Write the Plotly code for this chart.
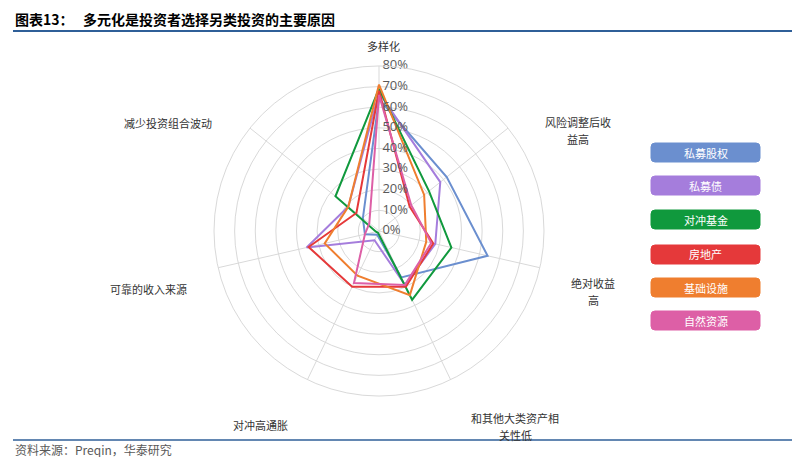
import plotly.graph_objects as go

categories = ["多样化", "风险调整后收益高", "绝对收益高", "和其他大类资产相关性低",
              "对冲高通胀", "可靠的收入来源", "减少投资组合波动"]
# how each category label is wrapped in the picture
category_lines = [["多样化"], ["风险调整后收", "益高"], ["绝对收益", "高"], ["和其他大类资产相", "关性低"],
                  ["对冲高通胀"], ["可靠的收入来源"], ["减少投资组合波动"]]

series_names = ["私募股权", "私募债", "对冲基金", "房地产", "基础设施", "自然资源"]
pe_vals = [64, 42, 54, 25, 2, 7, 10]
pd_vals = [67, 38, 28, 29, 5, 36, 19]
hf_vals = [69, 31, 36, 37, 1, 1.5, 27]
re_vals = [68, 19, 27, 30, 30, 35, 14]
inf_vals = [71, 28, 23.5, 34.5, 24, 27, 19]
nr_vals = [66, 20, 26, 29, 28, 7, 6]
series_values = [pe_vals, pd_vals, hf_vals, re_vals, inf_vals, nr_vals]
colors = ["#6b8fcf", "#a57ddc", "#10993d", "#e5393a", "#ef7e2f", "#dd5fa6"]

radial_ticks = [0, 10, 20, 30, 40, 50, 60, 70, 80]
radial_ticktext = [f"{v}%" for v in radial_ticks]

W, H = 800, 457
FONT = "Noto Sans CJK SC"


def px(x):
    return x / W


def py(y):
    return 1 - y / H


fig = go.Figure()
for name, vals, col in zip(series_names, series_values, colors):
    fig.add_trace(go.Scatterpolar(
        r=vals + vals[:1],
        theta=categories + categories[:1],
        mode="lines",
        name=name,
        line=dict(color=col, width=2),
        showlegend=False,
        hoverinfo="skip",
    ))

# radial tick labels, drawn along the top spoke
fig.add_trace(go.Scatterpolar(
    r=radial_ticks,
    theta=[categories[0]] * len(radial_ticks),
    mode="text",
    text=[" " + t for t in radial_ticktext],
    textposition="middle right",
    textfont=dict(size=13, color="#595959", family="Open Sans"),
    showlegend=False,
    hoverinfo="skip",
    cliponaxis=False,
))

fig.update_layout(
    width=W, height=H,
    margin=dict(l=0, r=0, t=0, b=0),
    paper_bgcolor="white",
    plot_bgcolor="white",
    font=dict(family=FONT, color="#404040"),
    polar=dict(
        domain=dict(x=[px(206), px(536)], y=[py(388), py(58)]),
        bgcolor="white",
        gridshape="circular",
        angularaxis=dict(
            rotation=90, direction="clockwise",
            showticklabels=False, ticks="",
            gridcolor="#d9d9d9", gridwidth=1,
            linecolor="#d9d9d9", linewidth=1, showline=True,
        ),
        radialaxis=dict(
            range=[0, 80], tickvals=radial_ticks,
            angle=90, showticklabels=False,
            showline=False, ticks="",
            gridcolor="#d9d9d9", gridwidth=1,
        ),
    ),
)

annotations = []
# category labels (one annotation per line)
label_pos = [(375, 38), (570, 122), (585, 283), (507, 418), (252, 417), (140, 281), (160, 115)]
for lines, (x, y) in zip(category_lines, label_pos):
    n = len(lines)
    for i, line in enumerate(lines):
        yy = y + (i - (n - 1) / 2) * 17
        annotations.append(dict(x=px(x), y=py(yy), xref="paper", yref="paper", text=line,
                                showarrow=False, xanchor="center", yanchor="middle",
                                font=dict(size=11, color="#333333", family=FONT)))

# legend boxes
shapes = []
box_tops = [135, 168, 202, 237, 270, 303]
x0b, x1b, hb, rad = 643, 752, 19, 4
for name, col, top in zip(series_names, colors, box_tops):
    y0, y1 = top, top + hb
    path = (f"M {px(x0b + rad)},{py(y0)} L {px(x1b - rad)},{py(y0)} "
            f"Q {px(x1b)},{py(y0)} {px(x1b)},{py(y0 + rad)} L {px(x1b)},{py(y1 - rad)} "
            f"Q {px(x1b)},{py(y1)} {px(x1b - rad)},{py(y1)} L {px(x0b + rad)},{py(y1)} "
            f"Q {px(x0b)},{py(y1)} {px(x0b)},{py(y1 - rad)} L {px(x0b)},{py(y0 + rad)} "
            f"Q {px(x0b)},{py(y0)} {px(x0b + rad)},{py(y0)} Z")
    shapes.append(dict(type="path", path=path, xref="paper", yref="paper",
                       fillcolor=col, line=dict(color=col, width=1)))
    annotations.append(dict(x=px((x0b + x1b) / 2), y=py(top + hb / 2), xref="paper", yref="paper",
                            text=name, showarrow=False, xanchor="center", yanchor="middle",
                            font=dict(size=11, color="white", family=FONT)))

# title, rules, source
annotations.append(dict(x=px(5), y=py(11), xref="paper", yref="paper",
                        text="<b>图表13：   多元化是投资者选择另类投资的主要原因</b>",
                        showarrow=False, xanchor="left", yanchor="middle",
                        font=dict(size=14, color="#000000", family=FONT)))
annotations.append(dict(x=px(5), y=py(441), xref="paper", yref="paper",
                        text="资料来源：Preqin，华泰研究",
                        showarrow=False, xanchor="left", yanchor="middle",
                        font=dict(size=12, color="#595959", family=FONT)))
shapes.append(dict(type="line", xref="paper", yref="paper", x0=px(5), x1=1, y0=py(23), y1=py(23),
                   line=dict(color="#2f5f98", width=2)))
shapes.append(dict(type="line", xref="paper", yref="paper", x0=px(5), x1=1, y0=py(432), y1=py(432),
                   line=dict(color="#2f5f98", width=1.5)))

fig.update_layout(annotations=annotations, shapes=shapes)
fig.write_html("out.html")
